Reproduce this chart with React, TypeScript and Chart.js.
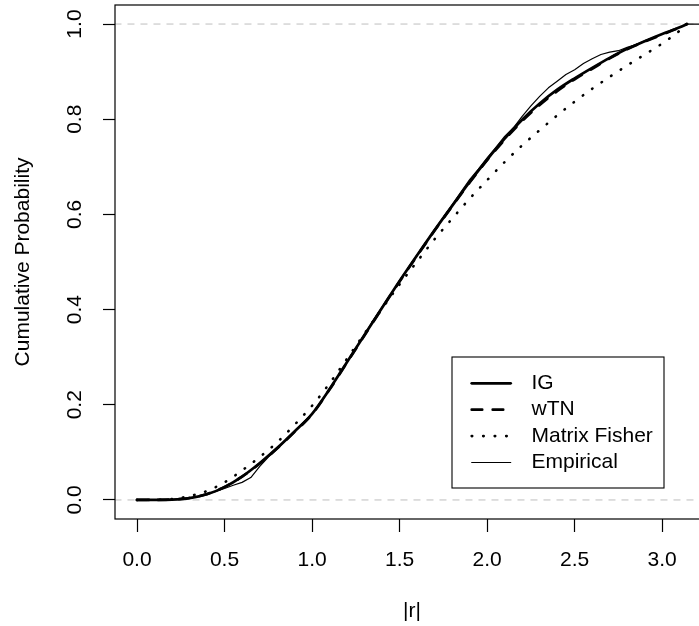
import React, { useEffect, useRef } from "react";
import { Chart, registerables } from "chart.js";

Chart.register(...registerables);

const FONT = '"Liberation Sans", Arial, Helvetica, sans-serif';
const FS = 21;

// ---- data ----
const xGrid = [0, 0.1, 0.2, 0.3, 0.4, 0.5, 0.6, 0.7, 0.8, 0.9, 1.0, 1.1, 1.2, 1.3, 1.4, 1.5, 1.6, 1.7, 1.8, 1.9, 2.0, 2.1, 2.2, 2.3, 2.4, 2.5, 2.6, 2.7, 2.8, 2.9, 3.0, 3.1, 3.1416];
const igCdf = [0, 0.0001, 0.0008, 0.004, 0.012, 0.027, 0.049, 0.077, 0.109, 0.144, 0.181, 0.233, 0.29, 0.347, 0.404, 0.46, 0.514, 0.567, 0.618, 0.668, 0.715, 0.759, 0.799, 0.833, 0.862, 0.886, 0.908, 0.929, 0.948, 0.964, 0.979, 0.993, 1];
const wtnCdf = [0, 0.0001, 0.0009, 0.0042, 0.0125, 0.0275, 0.049, 0.076, 0.108, 0.143, 0.18, 0.232, 0.289, 0.346, 0.403, 0.459, 0.513, 0.566, 0.617, 0.667, 0.714, 0.757, 0.796, 0.83, 0.859, 0.884, 0.906, 0.928, 0.947, 0.963, 0.978, 0.993, 1];
const fisherCdf = [0, 0.0003, 0.002, 0.008, 0.019, 0.037, 0.062, 0.09, 0.121, 0.158, 0.198, 0.245, 0.297, 0.35, 0.402, 0.453, 0.501, 0.548, 0.591, 0.633, 0.672, 0.71, 0.745, 0.777, 0.808, 0.837, 0.864, 0.889, 0.913, 0.936, 0.959, 0.986, 1];
const empiricalX = [0, 0.1, 0.2, 0.3, 0.35, 0.4, 0.45, 0.5, 0.55, 0.6, 0.65, 0.7, 0.75, 0.8, 0.85, 0.9, 0.95, 1.0, 1.05, 1.1, 1.2, 1.3, 1.35, 1.4, 1.45, 1.5, 1.6, 1.7, 1.8, 1.85, 1.9, 1.95, 2.0, 2.05, 2.1, 2.15, 2.2, 2.25, 2.3, 2.35, 2.4, 2.45, 2.5, 2.55, 2.6, 2.65, 2.7, 2.75, 2.8, 2.85, 2.9, 2.95, 3.0, 3.05, 3.1, 3.1416, 3.3];
const empiricalCdf = [0, 0, 0.001, 0.004, 0.007, 0.012, 0.018, 0.024, 0.031, 0.037, 0.047, 0.07, 0.09, 0.107, 0.126, 0.145, 0.163, 0.181, 0.205, 0.232, 0.291, 0.348, 0.378, 0.406, 0.432, 0.461, 0.515, 0.568, 0.62, 0.647, 0.673, 0.695, 0.719, 0.741, 0.764, 0.782, 0.806, 0.828, 0.848, 0.866, 0.88, 0.894, 0.904, 0.917, 0.927, 0.936, 0.941, 0.944, 0.951, 0.957, 0.965, 0.971, 0.979, 0.986, 0.993, 1, 1];
const xTickValues = [0, 0.5, 1.0, 1.5, 2.0, 2.5, 3.0];
const yTickValues = [0, 0.2, 0.4, 0.6, 0.8, 1.0];
const referenceLevels = [0, 1];
const seriesNames = ["IG", "wTN", "Matrix Fisher", "Empirical"];
const xTitle = "|r|";
const yTitle = "Cumulative Probability";

const pts = (xs: number[], ys: number[]) => xs.map((x, i) => ({ x, y: ys[i] }));

const frameLegendPlugin = {
  id: "frameLegend",
  afterDraw(chart: any) {
    const { ctx, chartArea: ca } = chart;
    ctx.save();
    ctx.setLineDash([]);
    ctx.strokeStyle = "#000";
    ctx.lineWidth = 1.2;
    ctx.strokeRect(ca.left, ca.top, ca.right - ca.left, ca.bottom - ca.top);

    const w = 212;
    const h = 131;
    const bx = ca.right - 45 - w;
    const by = ca.bottom - 31 - h;
    ctx.fillStyle = "#fff";
    ctx.fillRect(bx, by, w, h);
    ctx.lineWidth = 1.1;
    ctx.strokeRect(bx, by, w, h);
    ctx.font = `${FS}px ${FONT}`;
    ctx.textBaseline = "middle";
    ctx.textAlign = "left";
    seriesNames.forEach((name, i) => {
      const ds = chart.data.datasets[i];
      const y = by + 26.3 + i * 26.4;
      ctx.beginPath();
      ctx.setLineDash(ds.borderDash || []);
      ctx.lineCap = "round";
      ctx.lineWidth = ds.borderWidth;
      ctx.strokeStyle = ds.borderColor;
      ctx.moveTo(bx + 19.7, y);
      ctx.lineTo(bx + 58.7, y);
      ctx.stroke();
      ctx.setLineDash([]);
      ctx.fillStyle = "#000";
      ctx.fillText(name, bx + 79.5, y);
    });
    ctx.restore();
  },
};

export default function App() {
  const ref = useRef<HTMLCanvasElement>(null);
  useEffect(() => {
    const lineBase = {
      pointRadius: 0,
      borderColor: "#000",
      borderCapStyle: "round",
      borderJoinStyle: "round",
      fill: false,
    };
    const datasets: any[] = [
      { ...lineBase, label: seriesNames[0], data: pts(xGrid, igCdf), borderWidth: 2.7, cubicInterpolationMode: "monotone", order: 1 },
      { ...lineBase, label: seriesNames[1], data: pts(xGrid, wtnCdf), borderWidth: 2.7, borderDash: [10.5, 10.5], cubicInterpolationMode: "monotone", order: 2 },
      { ...lineBase, label: seriesNames[2], data: pts(xGrid, fisherCdf), borderWidth: 2.6, borderDash: [0.5, 11], cubicInterpolationMode: "monotone", order: 3 },
      { ...lineBase, label: seriesNames[3], data: pts(empiricalX, empiricalCdf), borderWidth: 1.2, tension: 0, order: 4 },
      ...referenceLevels.map((lv) => ({
        label: "ref" + lv,
        data: [{ x: -0.5, y: lv }, { x: 3.6, y: lv }],
        borderColor: "#bebebe",
        borderWidth: 1,
        borderDash: [7, 6],
        pointRadius: 0,
        borderCapStyle: "butt",
        order: 10,
      })),
    ];
    const chart = new Chart(ref.current!, {
      type: "line",
      data: { datasets },
      options: {
        animation: false,
        responsive: false,
        events: [],
        layout: { autoPadding: false, padding: { top: 5, right: 11, bottom: 0, left: 0 } },
        plugins: { legend: { display: false }, tooltip: { enabled: false }, title: { display: false } },
        scales: {
          x: {
            type: "linear",
            min: -0.1257,
            max: 3.2673,
            afterBuildTicks: (s: any) => { s.ticks = xTickValues.map((value) => ({ value })); },
            afterFit: (s: any) => { s.height = 107; s.paddingLeft = 0; s.paddingRight = 0; },
            border: { display: false },
            grid: { drawOnChartArea: false, drawTicks: true, tickLength: 13, tickColor: "#000", tickWidth: 1.2, color: "#000" },
            ticks: {
              autoSkip: false, maxRotation: 0, minRotation: 0, padding: 15.4, color: "#000",
              font: { family: FONT, size: FS },
              callback: (v: any) => Number(v).toFixed(1),
            },
            title: { display: true, text: xTitle, color: "#000", font: { family: FONT, size: FS }, padding: { top: 0, bottom: 2.1 } },
          },
          y: {
            type: "linear",
            min: -0.04,
            max: 1.04,
            afterBuildTicks: (s: any) => { s.ticks = yTickValues.map((value) => ({ value })); },
            afterFit: (s: any) => { s.width = 115; s.paddingTop = 0; s.paddingBottom = 0; },
            border: { display: false },
            grid: { drawOnChartArea: false, drawTicks: true, tickLength: 12, tickColor: "#000", tickWidth: 1.2, color: "#000" },
            ticks: {
              autoSkip: false, minRotation: 90, maxRotation: 90, crossAlign: "center", padding: 13.4, color: "#000",
              font: { family: FONT, size: FS },
              callback: (v: any) => Number(v).toFixed(1),
            },
            title: { display: true, text: yTitle, color: "#000", font: { family: FONT, size: FS }, padding: { top: 10.4, bottom: 0 } },
          },
        },
      } as any,
      plugins: [frameLegendPlugin],
    });
    return () => chart.destroy();
  }, []);
  return (
    <div style={{ position: "absolute", left: 0, top: 0, width: 699, height: 626, overflow: "hidden", background: "#fff" }}>
      <canvas ref={ref} width={720} height={626} style={{ display: "block", width: 720, height: 626 }} />
    </div>
  );
}
